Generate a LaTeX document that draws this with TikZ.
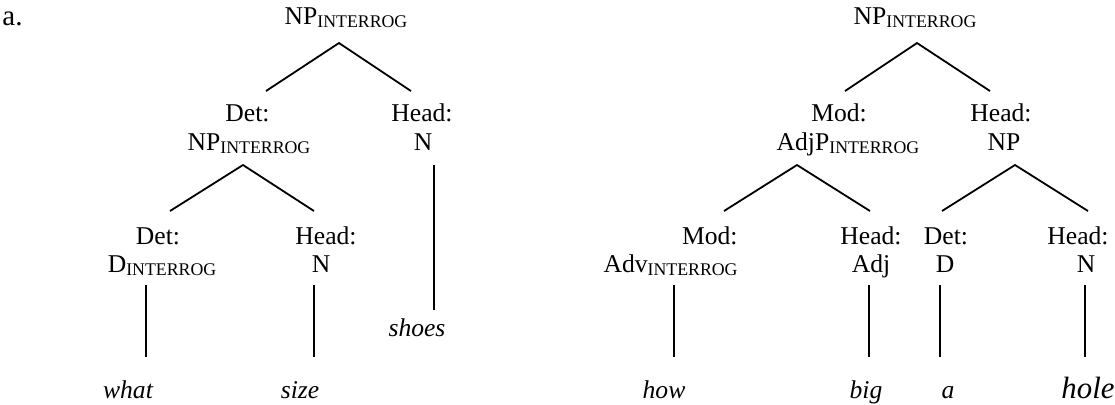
\documentclass[tikz,border=0pt]{standalone}
\usepackage{fontspec}
\setmainfont{Liberation Serif}
\newcommand{\intsub}[1]{\raisebox{-1.6pt}{\fontsize{8.9}{10}\selectfont #1}}
\begin{document}
\begin{tikzpicture}[x=0.5pt,y=-0.5pt,
  lbl/.style={inner sep=0pt, anchor=base, font=\fontsize{12.8}{15}\selectfont},
  word/.style={inner sep=0pt, anchor=base, font=\fontsize{12.8}{15}\selectfont\itshape},
  bigword/.style={inner sep=0pt, anchor=base, font=\fontsize{15.4}{18}\selectfont\itshape},
  edge/.style={line width=0.9pt}]
\useasboundingbox (0,0) rectangle (1115,404);

% label
\node[lbl, anchor=base west, font=\fontsize{14.5}{17}\selectfont] (alab) at (2,25) {a.};

% ---------- left tree ----------
\node[lbl] (rootL) at (346,24) {NP\intsub{INTERROG}};
\node[lbl] (detLa) at (247.5,121) {Det:};
\node[lbl] (detLb) at (249,150) {NP\intsub{INTERROG}};
\node[lbl] (headLa) at (422,121) {Head:};
\node[lbl] (headLb) at (423,150) {N};
\node[lbl] (ddetLa) at (158,244) {Det:};
\node[lbl] (ddetLb) at (162,272) {D\intsub{INTERROG}};
\node[lbl] (dheadLa) at (326,244) {Head:};
\node[lbl] (dheadLb) at (321,272) {N};
\node[word] (what) at (128,398) {what};
\node[word] (size) at (300,398) {size};
\node[word] (shoes) at (417,336) {shoes};

\coordinate (aL0) at (339,43);
\coordinate (aL1) at (266,91);
\coordinate (aL2) at (411,91);
\coordinate (bL0) at (243,165);
\coordinate (bL1) at (170,211);
\coordinate (bL2) at (314,211);
\coordinate (cL0) at (434,165);
\coordinate (cL1) at (434,310);
\coordinate (dL0) at (146,285);
\coordinate (dL1) at (146,357);
\coordinate (eL0) at (314,285);
\coordinate (eL1) at (314,357);

\draw[edge] (aL1) -- (aL0) -- (aL2);
\draw[edge] (bL1) -- (bL0) -- (bL2);
\draw[edge] (cL0) -- (cL1);
\draw[edge] (dL0) -- (dL1);
\draw[edge] (eL0) -- (eL1);

% ---------- right tree ----------
\node[lbl] (rootR) at (915,24) {NP\intsub{INTERROG}};
\node[lbl] (modRa) at (839,121) {Mod:};
\node[lbl] (modRb) at (848,150) {AdjP\intsub{INTERROG}};
\node[lbl] (headRa) at (1001,121) {Head:};
\node[lbl] (headRb) at (1004,150) {NP};
\node[lbl, anchor=base east] (advRa) at (738,244) {Mod:};
\node[lbl, anchor=base east] (advRb) at (738,272) {Adv\intsub{INTERROG}};
\node[lbl] (adjRa) at (871,244) {Head:};
\node[lbl] (adjRb) at (871,272) {Adj};
\node[lbl] (dRa) at (946,244) {Det:};
\node[lbl] (dRb) at (945,272) {D};
\node[lbl] (nRa) at (1078,244) {Head:};
\node[lbl] (nRb) at (1086,272) {N};
\node[word] (how) at (664,398) {how};
\node[word] (big) at (866,398) {big};
\node[word] (aw) at (948,398) {a};
\node[bigword] (hole) at (1088,398) {hole};

\coordinate (aR0) at (917,43);
\coordinate (aR1) at (845,91);
\coordinate (aR2) at (990,91);
\coordinate (bR0) at (797,165);
\coordinate (bR1) at (724,211);
\coordinate (bR2) at (870,211);
\coordinate (cR0) at (1015,165);
\coordinate (cR1) at (942,211);
\coordinate (cR2) at (1088,211);
\coordinate (v1a) at (674,285);
\coordinate (v1b) at (674,357);
\coordinate (v2a) at (869,285);
\coordinate (v2b) at (869,357);
\coordinate (v3a) at (940,285);
\coordinate (v3b) at (940,357);
\coordinate (v4a) at (1085,285);
\coordinate (v4b) at (1085,357);

\draw[edge] (aR1) -- (aR0) -- (aR2);
\draw[edge] (bR1) -- (bR0) -- (bR2);
\draw[edge] (cR1) -- (cR0) -- (cR2);
\draw[edge] (v1a) -- (v1b);
\draw[edge] (v2a) -- (v2b);
\draw[edge] (v3a) -- (v3b);
\draw[edge] (v4a) -- (v4b);
\end{tikzpicture}
\end{document}
